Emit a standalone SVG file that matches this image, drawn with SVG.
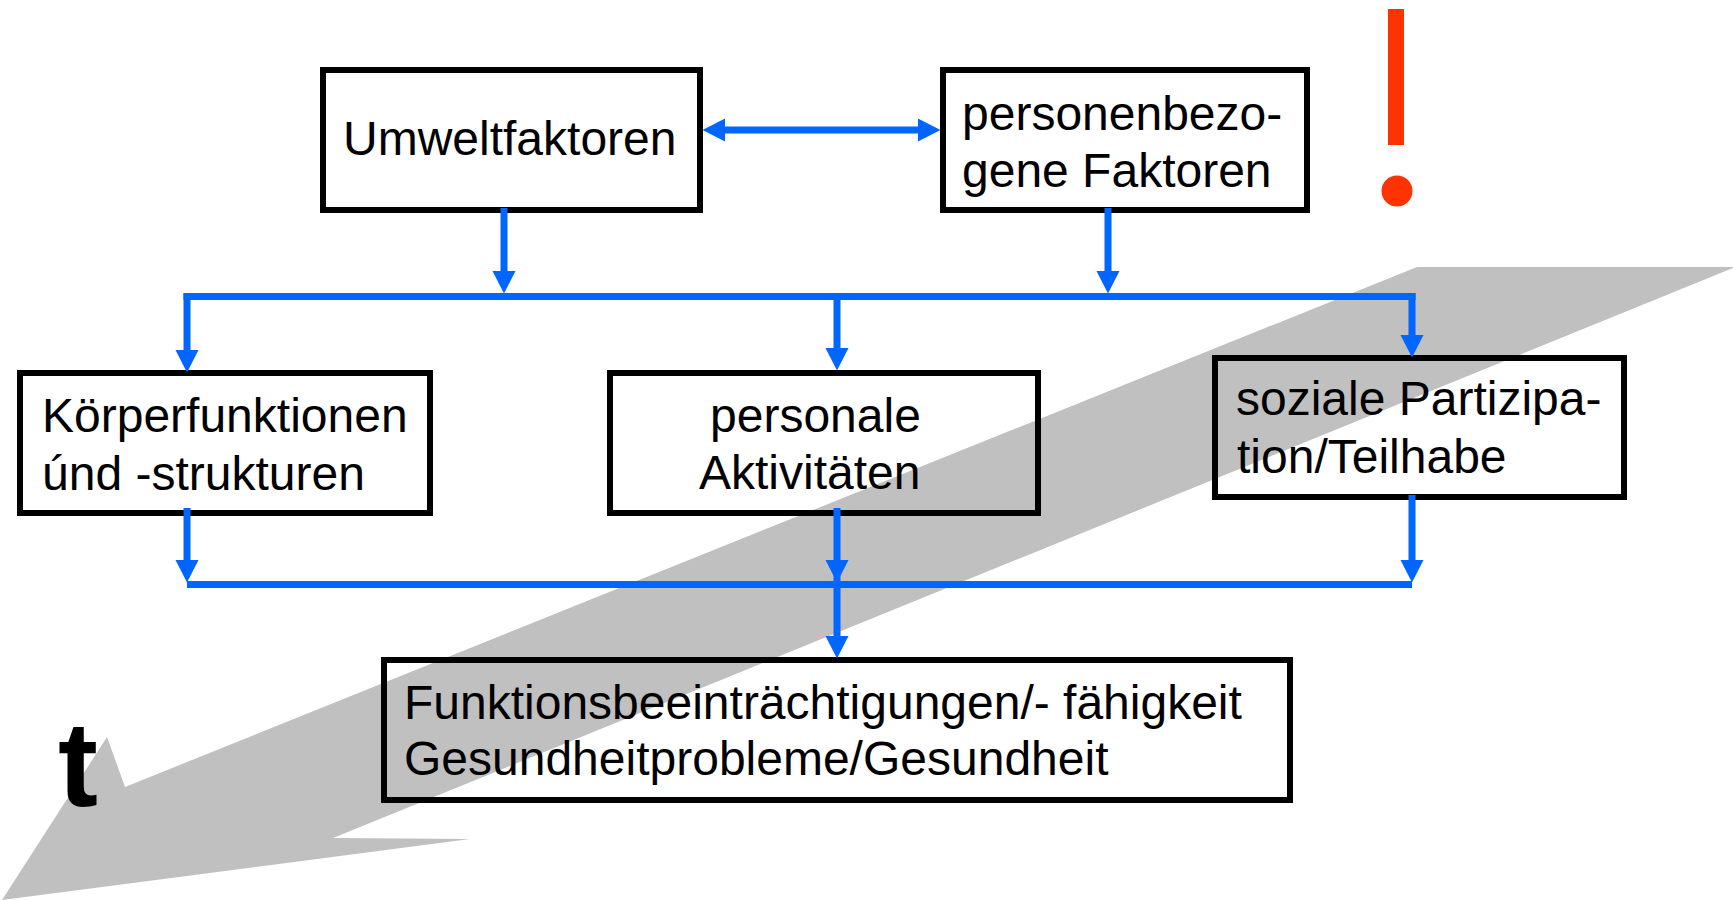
<svg xmlns="http://www.w3.org/2000/svg" width="1733" height="900" viewBox="0 0 1733 900">
<style>
.box{fill:none;stroke:#000;stroke-width:6}
.lbl{font-family:"Liberation Sans",Arial,sans-serif;font-size:48px;fill:#000}
.con{fill:none;stroke:#0066ff;stroke-width:7}
.arr{marker-end:url(#ah)}
</style>
<defs>
<marker id="ah" markerUnits="userSpaceOnUse" markerWidth="23" markerHeight="24" refX="0" refY="12" orient="auto-start-reverse" viewBox="0 0 23 24">
<path d="M0,0.5 L22.5,12 L0,23.5 Z" fill="#0066ff"/>
</marker>
</defs>
<rect width="1733" height="900" fill="#fff"/>
<g id="time-arrow">
<polygon points="1417,267 1733,267 1733,268 333,838 470,839 2,900 107,737 125,787" fill="#c0c0c0"/>
</g>
<g id="umweltfaktoren">
<rect class="box" x="323" y="70" width="377" height="140"/>
<text class="lbl" x="343" y="155">Umweltfaktoren</text>
</g>
<g id="personenbezogene-faktoren">
<rect class="box" x="943" y="70" width="364" height="140"/>
<text class="lbl" x="962" y="130">personenbezo-</text>
<text class="lbl" x="962" y="187">gene Faktoren</text>
</g>
<g id="koerperfunktionen">
<rect class="box" x="20" y="373" width="410" height="140"/>
<text class="lbl" x="42" y="432">Körperfunktionen</text>
<text class="lbl" x="42" y="490">únd -strukturen</text>
</g>
<g id="personale-aktivitaeten">
<rect class="box" x="610" y="373" width="428" height="140"/>
<text class="lbl" x="710" y="432">personale</text>
<text class="lbl" x="699" y="489">Aktivitäten</text>
</g>
<g id="soziale-partizipation">
<rect class="box" x="1215" y="358" width="409" height="139"/>
<text class="lbl" x="1236" y="415">soziale Partizipa-</text>
<text class="lbl" x="1237" y="473">tion/Teilhabe</text>
</g>
<g id="funktionsbeeintraechtigungen">
<rect class="box" x="384" y="660" width="906" height="140"/>
<text class="lbl" x="404" y="719">Funktionsbeeinträchtigungen/- fähigkeit</text>
<text class="lbl" x="404" y="775">Gesundheitprobleme/Gesundheit</text>
</g>
<g id="connectors">
<path class="con" d="M725,130 H918" marker-start="url(#ah)" marker-end="url(#ah)"/>
<path class="con arr" d="M504,208 V271"/>
<path class="con arr" d="M1108,208 V271"/>
<path class="con" d="M183.5,296.5 H1415.5"/>
<path class="con arr" d="M187,293 V350"/>
<path class="con arr" d="M837,297 V348"/>
<path class="con arr" d="M1412,293 V335"/>
<path class="con arr" d="M187,508 V560"/>
<path class="con arr" d="M837,508 V560"/>
<path class="con arr" d="M837,560 V636"/>
<path class="con arr" d="M1412,495 V560"/>
<path class="con" d="M187,584.5 H1412"/>
</g>
<g id="time-label">
<text x="58" y="806" font-family="'Liberation Sans',Arial,sans-serif" font-size="120" font-weight="bold" fill="#000">t</text>
</g>
<g id="exclamation">
<rect x="1388" y="9" width="16" height="136" fill="#ff3300"/>
<circle cx="1397" cy="191" r="15.5" fill="#ff3300"/>
</g>
</svg>
